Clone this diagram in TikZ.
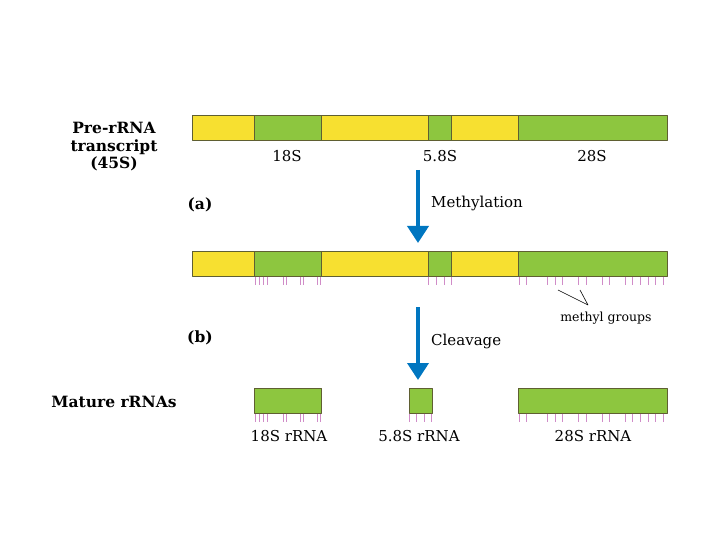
\documentclass[tikz,border=0pt]{standalone}
\usepackage{fontspec}
\setmainfont{DejaVu Serif}
\usetikzlibrary{arrows.meta}
\definecolor{ylw}{RGB}{247,224,48}
\definecolor{grn}{RGB}{141,198,63}
\definecolor{edge}{RGB}{95,95,50}
\definecolor{mth}{RGB}{208,140,200}
\definecolor{arw}{RGB}{0,118,192}
\begin{document}
\begin{tikzpicture}[x=1pt, y=-1pt, font=\fontsize{15}{17.5}\selectfont, line join=round,
		seg/.style={draw=edge, line width=.8pt},
		methtick/.style={draw=mth, line width=.8pt},
		procarrow/.style={draw=arw, line width=3.8pt, -{Triangle[width=21pt,length=17pt]}},
		lbl/.style={inner sep=0pt},
		boldlbl/.style={inner sep=0pt, font=\fontsize{15.5}{17.5}\selectfont\bfseries}]
	\useasboundingbox (0,0) rectangle (720,540);
	\def\ytop{115} \def\ybot{140}
	\def\ymtop{251} \def\ymbot{276}
	\def\yrtop{388} \def\yrbot{413}
	\foreach \a/\b/\c in {192/254/ylw,254/321.5/grn,321.5/428.5/ylw,428.5/451/grn,451/518/ylw,518/667/grn}{
		\filldraw[seg, fill=\c] (\a,\ytop) rectangle (\b,\ybot);
		\filldraw[seg, fill=\c] (\a,\ymtop) rectangle (\b,\ymbot);
	}
	\filldraw[seg, fill=grn] (254,\yrtop) rectangle (321.5,\yrbot) (409,\yrtop) rectangle (432,\yrbot) (518,\yrtop) rectangle (667,\yrbot);
	\foreach \x in {255,259,263,267,283,286.5,300,303.5,317,320.5,428.5,436,444,451,519,526,547,555,562,578,586,602,609,625,632,640,648,655,663}
		\draw[methtick] (\x,\ymbot+.5) -- (\x,\ymbot+9);
	\foreach \x in {255,259,263,267,283,286.5,300,303.5,317,320.5,409,416.5,424.5,431.5,519,526,547,555,562,578,586,602,609,625,632,640,648,655,663}
		\draw[methtick] (\x,\yrbot+.5) -- (\x,\yrbot+9);
	\node[boldlbl, align=center] (pre) at (114,147) {Pre-rRNA\\transcript\\(45S)};
	\node[lbl] (s18) at (287,156) {18S};
	\node[lbl] (s58) at (440,156) {5.8S};
	\node[lbl] (s28) at (592,156) {28S};
	\node[boldlbl] (stepa) at (200,205) {(a)};
	\node[lbl, anchor=west] (meth) at (431,203) {Methylation};
	\coordinate (ma) at (418,170);
	\coordinate (mb) at (418,243);
	\draw[procarrow] (ma) -- (mb);
	\node[lbl, font=\fontsize{12.5}{15}\selectfont] (mg) at (606,318) {methyl groups};
	\coordinate (mg1) at (558,290);
	\coordinate (mg2) at (580,290);
	\coordinate (mgt) at (588,305);
	\draw[line width=.6pt] (mg1) -- (mgt) -- (mg2);
	\node[boldlbl] (stepb) at (200,338) {(b)};
	\node[lbl, anchor=west] (clv) at (431,341) {Cleavage};
	\coordinate (ca) at (418,307);
	\coordinate (cb) at (418,380);
	\draw[procarrow] (ca) -- (cb);
	\node[boldlbl] (mat) at (114,402) {Mature rRNAs};
	\node[lbl] (m18) at (289,436) {18S rRNA};
	\node[lbl] (m58) at (419,436) {5.8S rRNA};
	\node[lbl] (m28) at (593,436) {28S rRNA};
\end{tikzpicture}
\end{document}
